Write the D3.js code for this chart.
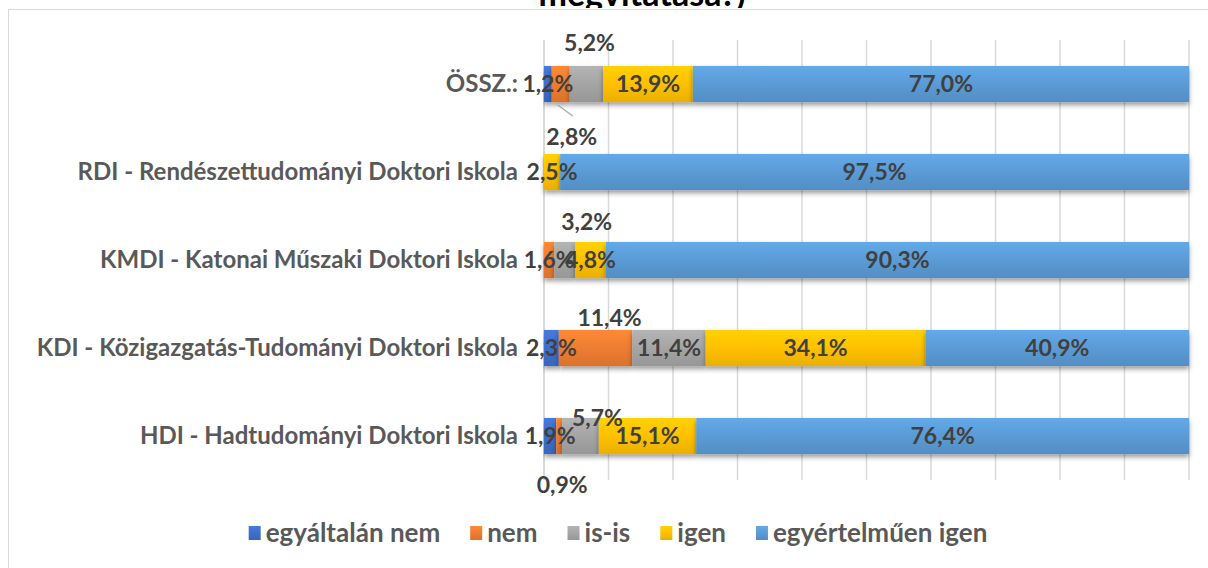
<!DOCTYPE html>
<html>
<head>
<meta charset="utf-8">
<script src="https://cdn.jsdelivr.net/npm/d3@7"></script>
<style>
  body { margin: 0; background: #fff; }
  text { font-family: Lato, "Open Sans", sans-serif; font-weight: bold; }
</style>
</head>
<body>
<div class="canvas"></div>
<script>
// categories top to bottom
const categories = [
    'ÖSSZ.:',
    'RDI - Rendészettudományi Doktori Iskola',
    'KMDI - Katonai Műszaki Doktori Iskola',
    'KDI - Közigazgatás-Tudományi Doktori Iskola',
    'HDI - Hadtudományi Doktori Iskola'
];
const seriesNames = ['egyáltalán nem', 'nem', 'is-is', 'igen', 'egyértelműen igen'];
const egyaltalanNem = [1.2, 0, 0, 2.3, 1.9];
const nem = [2.8, 0, 1.6, 11.4, 0.9];
const isIs = [5.2, 0, 3.2, 11.4, 5.7];
const igen = [13.9, 2.5, 4.8, 34.1, 15.1];
const egyertelmuenIgen = [77.0, 97.5, 90.3, 40.9, 76.4];
const titleText = 'megvitatása?)';

const dims = { width: 1208, height: 568, x0: 544, x1: 1189, y0: 40, y1: 480 };
const colours = ['#3f6fca', '#ee7d31', '#a5a5a5', '#ffc000', '#5b9bd5'];

// labels that Excel had moved off their segment: key series|category -> offset
const labelOffsets = {
    'nem|0': { dx: 11, dy: 53, leader: true },
    'is-is|0': { dx: 3, dy: -41 },
    'is-is|2': { dx: 22, dy: -38 },
    'nem|3': { dx: 14, dy: -30 },
    'is-is|4': { dx: 17, dy: -18 },
    'nem|4': { dx: 3, dy: 49 }
};

const seriesValues = [egyaltalanNem, nem, isIs, igen, egyertelmuenIgen];
const rows = categories.map((c, i) => {
    const row = { category: c, index: i };
    seriesNames.forEach((s, j) => row[s] = seriesValues[j][i]);
    return row;
});

const svg = d3.select('.canvas')
    .append('svg')
    .attr('width', dims.width)
    .attr('height', dims.height);

const defs = svg.append('defs');
colours.forEach((c, i) => {
    const g = defs.append('linearGradient')
        .attr('id', `grad${i}`)
        .attr('x1', 0).attr('y1', 0).attr('x2', 0).attr('y2', 1);
    g.append('stop').attr('offset', '0%').attr('stop-color', d3.color(c).brighter(0.25));
    g.append('stop').attr('offset', '50%').attr('stop-color', c);
    g.append('stop').attr('offset', '100%').attr('stop-color', d3.color(c).darker(0.25));
});
defs.append('filter').attr('id', 'shadow')
    .attr('x', '-5%').attr('y', '-20%').attr('width', '110%').attr('height', '160%')
    .append('feDropShadow')
    .attr('dx', 0).attr('dy', 3).attr('stdDeviation', 2.5)
    .attr('flood-color', '#000').attr('flood-opacity', 0.4);
defs.append('clipPath').attr('id', 'titleClip')
    .append('rect').attr('x', 0).attr('y', 0).attr('width', dims.width).attr('height', 8);

// chart frame
svg.append('rect')
    .attr('x', 8.5).attr('y', 9.5)
    .attr('width', dims.width).attr('height', dims.height)
    .attr('fill', 'none').attr('stroke', '#d9d9d9').attr('stroke-width', 1);

// title, only its lower edge is visible
svg.append('text')
    .attr('clip-path', 'url(#titleClip)')
    .attr('x', 642).attr('y', 6)
    .attr('text-anchor', 'middle')
    .attr('font-size', 34)
    .attr('fill', '#000')
    .text(titleText);

const x = d3.scaleLinear().domain([0, 1]).range([dims.x0, dims.x1]);
const y = d3.scaleBand().domain(categories).range([dims.y0, dims.y1])
    .paddingInner(0.59).paddingOuter(0.295);

// gridlines
svg.append('g')
    .selectAll('line')
    .data(x.ticks(10))
    .join('line')
    .attr('x1', d => x(d)).attr('x2', d => x(d))
    .attr('y1', dims.y0).attr('y2', dims.y1)
    .attr('stroke', '#d9d9d9')
    .attr('stroke-width', d => d === 0 ? 2 : 1.5);

// category axis labels
svg.append('g')
    .selectAll('text')
    .data(categories)
    .join('text')
    .attr('x', dims.x0 - 26)
    .attr('y', d => y(d) + y.bandwidth() / 2)
    .attr('dy', '0.35em')
    .attr('text-anchor', 'end')
    .attr('font-size', 24)
    .attr('fill', '#595959')
    .text(d => d);

const stack = d3.stack().keys(seriesNames).offset(d3.stackOffsetExpand);
const stacked = stack(rows);

const bars = svg.append('g');
stacked.forEach((layer, si) => {
    bars.append('g')
        .attr('filter', 'url(#shadow)')
        .selectAll('rect')
        .data(layer.filter(d => d.data[layer.key] > 0))
        .join('rect')
        .attr('x', d => x(d[0]))
        .attr('width', d => x(d[1]) - x(d[0]))
        .attr('y', d => y(d.data.category))
        .attr('height', y.bandwidth())
        .attr('fill', `url(#grad${si})`);
});

// data labels
const fmt = v => v.toFixed(1).replace('.', ',') + '%';
const labels = svg.append('g');
stacked.forEach(layer => {
    layer.filter(d => d.data[layer.key] > 0).forEach(d => {
        const off = labelOffsets[`${layer.key}|${d.data.index}`] || { dx: 0, dy: 0 };
        const cx = (x(d[0]) + x(d[1])) / 2;
        const cy = y(d.data.category) + y.bandwidth() / 2;
        if (off.leader) {
            const by = cy + y.bandwidth() / 2;
            labels.append('line')
                .attr('x1', cx - 3).attr('y1', by + 3)
                .attr('x2', cx + 12).attr('y2', by + 14)
                .attr('stroke', '#a6a6a6').attr('stroke-width', 1.2);
        }
        labels.append('text')
            .attr('x', cx + off.dx)
            .attr('y', cy + off.dy)
            .attr('dy', '0.35em')
            .attr('text-anchor', 'middle')
            .attr('font-size', 23)
            .attr('fill', '#404040')
            .text(fmt(d.data[layer.key]));
    });
});

// legend
const legend = svg.append('g').attr('transform', 'translate(0, 533)');
const items = legend.selectAll('g')
    .data(seriesNames)
    .join('g');
items.append('rect')
    .attr('y', -7).attr('width', 12).attr('height', 14)
    .attr('fill', (d, i) => `url(#grad${i})`);
items.append('text')
    .attr('x', 17).attr('dy', '0.35em')
    .attr('font-size', 26)
    .attr('fill', '#595959')
    .text(d => d);
const widths = [];
items.each(function () {
    widths.push(d3.select(this).select('text').node().getComputedTextLength() + 17);
});
const gap = 30;
const total = d3.sum(widths) + gap * (widths.length - 1);
let pos = 618 - total / 2;
items.attr('transform', (d, i) => {
    const t = `translate(${pos},0)`;
    pos += widths[i] + gap;
    return t;
});
</script>
</body>
</html>
